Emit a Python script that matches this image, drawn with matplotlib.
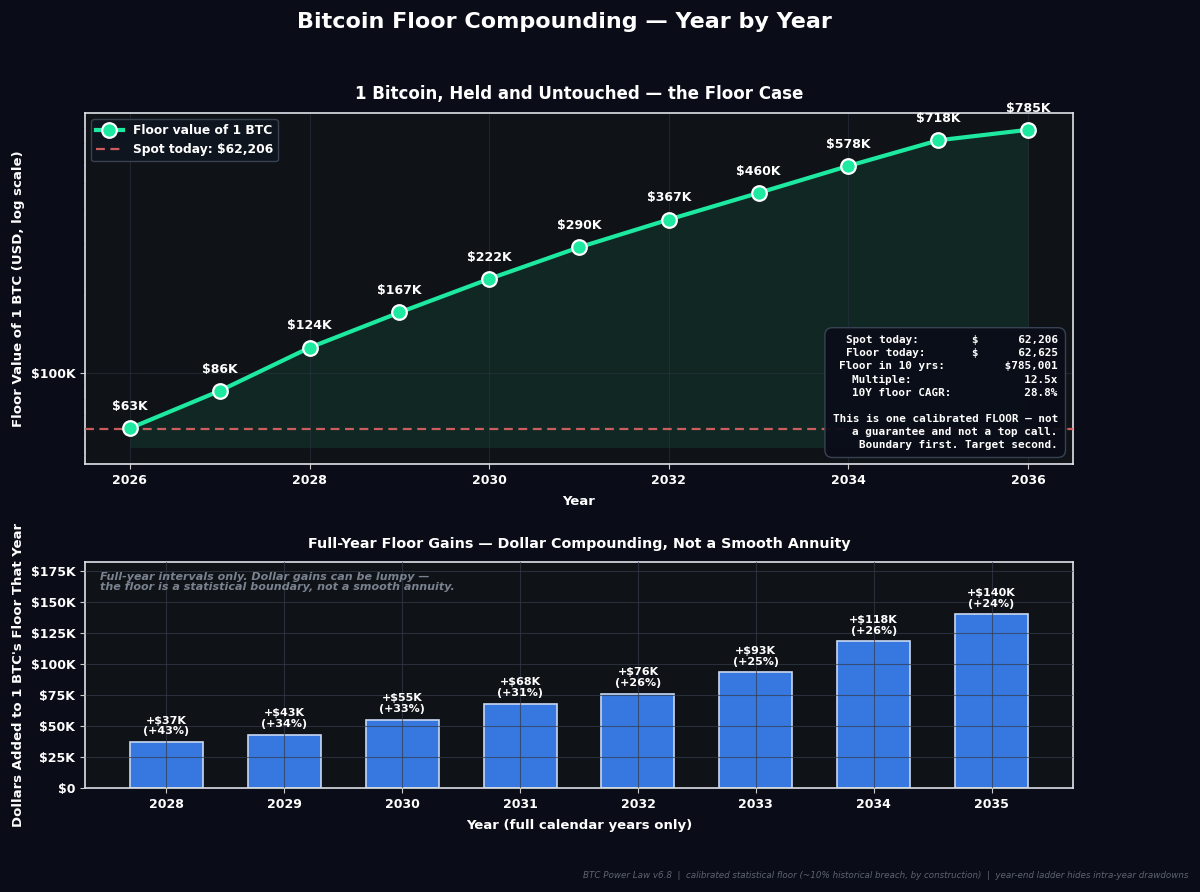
import numpy as np
import matplotlib.pyplot as plt
from matplotlib.ticker import FuncFormatter, NullFormatter

# floor value of 1 BTC at each year end
years = [2026, 2027, 2028, 2029, 2030, 2031, 2032, 2033, 2034, 2035, 2036]
floor_values = [62625, 86000, 124000, 167000, 222000, 290000, 367000, 460000, 578000, 718000, 785001]
point_labels = ['$63K', '$86K', '$124K', '$167K', '$222K', '$290K', '$367K', '$460K', '$578K', '$718K', '$785K']
spot_today = 62206

# full calendar year gains
gain_years = ['2028', '2029', '2030', '2031', '2032', '2033', '2034', '2035']
gains = [37000, 43000, 55000, 68000, 76000, 93000, 118000, 140000]
gain_pcts = [43, 34, 33, 31, 26, 25, 26, 24]

BG = '#0a0d18'
AX_BG = '#0f1217'
GREEN = '#1de9a0'
BLUE = '#3778e0'
RED = '#e06464'
GRID = '#2a3340'
TXT = '#ffffff'

plt.rcParams['font.family'] = ['DejaVu Sans']
plt.rcParams['font.weight'] = 'bold'

fig = plt.figure(figsize=(12, 8.92), dpi=100, facecolor=BG)
ax1 = fig.add_axes([0.0708, 0.480, 0.8234, 0.393])
ax2 = fig.add_axes([0.0708, 0.1166, 0.8234, 0.2534])

fig.text(0.47, 0.987, 'Bitcoin Floor Compounding \u2014 Year by Year', ha='center', va='top',
         fontsize=16, fontweight='bold', color=TXT)

for ax in (ax1, ax2):
    ax.set_facecolor(AX_BG)
    for sp in ax.spines.values():
        sp.set_color('#dfe3e8')
        sp.set_linewidth(1.2)
    ax.tick_params(colors='#cccccc', labelcolor=TXT, labelsize=9)

# --- top: floor ladder ---
ax1.set_yscale('log')
base = min(floor_values) * 0.85
ax1.fill_between(years, floor_values, base, color=GREEN, alpha=0.1, lw=0, zorder=1)
ax1.plot(years, floor_values, color=GREEN, lw=3, marker='o', ms=10.5, mfc=GREEN, mec='white',
         mew=1.6, zorder=4, label='Floor value of 1 BTC')
ax1.axhline(spot_today, color=RED, ls=(0, (4, 2.5)), lw=1.6, alpha=0.9, zorder=3,
            label=f'Spot today: ${spot_today:,}')
for x, y, t in zip(years, floor_values, point_labels):
    ax1.annotate(t, (x, y), xytext=(0, 11), textcoords='offset points', ha='center', va='bottom',
                 fontsize=9, fontweight='bold', color=TXT, zorder=5)
ax1.set_ylim(min(floor_values) * 0.74, max(floor_values) * 1.15)
ax1.set_xticks(years[::2])
ax1.yaxis.set_major_formatter(FuncFormatter(lambda v, p: f'${v / 1000:.0f}K'))
ax1.yaxis.set_minor_formatter(NullFormatter())
ax1.grid(True, which='major', color=GRID, lw=0.8, alpha=0.6)
ax1.set_title('1 Bitcoin, Held and Untouched \u2014 the Floor Case', fontsize=12, fontweight='bold',
              color=TXT, pad=10)
ax1.set_xlabel('Year', fontsize=9.5, fontweight='bold', color=TXT, labelpad=6)
ax1.set_ylabel('Floor Value of 1 BTC (USD, log scale)', fontsize=9.5, fontweight='bold', color=TXT,
               labelpad=4)
leg = ax1.legend(loc='upper left', facecolor='#0f1620', edgecolor='#3a4452', fontsize=8.8,
                 framealpha=0.95, borderpad=0.4, handlelength=2.2)
for t in leg.get_texts():
    t.set_color(TXT)
    t.set_fontweight('bold')

box_txt = ('Spot today:        $      62,206\n'
           'Floor today:       $      62,625\n'
           'Floor in 10 yrs:         $785,001\n'
           'Multiple:                 12.5x\n'
           '10Y floor CAGR:           28.8%\n'
           '\n'
           'This is one calibrated FLOOR \u2014 not\n'
           'a guarantee and not a top call.\n'
           'Boundary first. Target second.')
ax1.text(0.9846, 0.04, box_txt, transform=ax1.transAxes, ha='right', va='bottom',
         multialignment='right', family='DejaVu Sans Mono', fontsize=7.9, fontweight='bold',
         color=TXT, linespacing=1.38, zorder=6,
         bbox=dict(boxstyle='round,pad=0.7', facecolor='#0a0d18', edgecolor='#3a4656', alpha=0.95))

# --- bottom: annual gains ---
xpos = np.arange(len(gain_years))
ax2.bar(xpos, gains, width=0.62, color=BLUE, edgecolor='#c8d8f0', lw=1.2, zorder=2)
for x, g, p in zip(xpos, gains, gain_pcts):
    ax2.annotate(f'+${g / 1000:.0f}K\n(+{p}%)', (x, g), xytext=(0, 4), textcoords='offset points',
                 ha='center', va='bottom', fontsize=8, fontweight='bold', color=TXT,
                 linespacing=1.1, zorder=5)
ax2.set_xticks(xpos)
ax2.set_xticklabels(gain_years)
ax2.set_ylim(0, max(gains) * 1.3)
ax2.set_yticks(np.arange(0, 175001, 25000))
ax2.yaxis.set_major_formatter(FuncFormatter(lambda v, p: f'${v / 1000:.0f}K' if v else '$0'))
ax2.grid(True, color='#333c4a', lw=0.8, alpha=0.7, zorder=3)
ax2.set_axisbelow(False)
ax2.set_title('Full-Year Floor Gains \u2014 Dollar Compounding, Not a Smooth Annuity', fontsize=10.3,
              fontweight='bold', color=TXT, pad=10)
ax2.set_xlabel('Year (full calendar years only)', fontsize=9.5, fontweight='bold', color=TXT,
               labelpad=6)
ax2.set_ylabel('Dollars Added to 1 BTC\'s Floor That Year', fontsize=9.5, fontweight='bold',
               color=TXT, labelpad=4)
ax2.text(0.015, 0.955, 'Full-year intervals only. Dollar gains can be lumpy \u2014\n'
         'the floor is a statistical boundary, not a smooth annuity.', transform=ax2.transAxes,
         ha='left', va='top', fontsize=8, fontstyle='italic', fontweight='bold', color='#7a828f',
         linespacing=1.0)
for lbl in ax1.get_xticklabels() + ax1.get_yticklabels() + ax2.get_xticklabels() + ax2.get_yticklabels():
    lbl.set_fontweight('bold')

fig.text(0.99, 0.013, 'BTC Power Law v6.8  |  calibrated statistical floor (~10% historical breach, by construction)'
         '  |  year-end ladder hides intra-year drawdowns', ha='right', va='bottom', fontsize=6.3,
         fontstyle='italic', fontweight='normal', color='#5c6370')

fig.savefig('out.png', dpi=100, facecolor=BG)
